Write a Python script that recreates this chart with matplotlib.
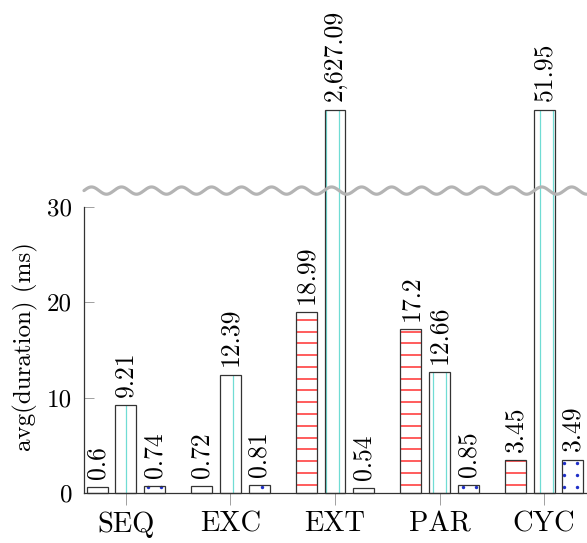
import numpy as np
import matplotlib
matplotlib.use("Agg")
import matplotlib.pyplot as plt
from matplotlib.collections import LineCollection

plt.rcParams["font.family"] = ["cmr10", "DejaVu Serif"]
plt.rcParams["axes.formatter.use_mathtext"] = True

# ---- data -------------------------------------------------------------
categories = ["SEQ", "EXC", "EXT", "PAR", "CYC"]
series_red = [0.6, 0.72, 18.99, 17.2, 3.45]
series_cyan = [9.21, 12.39, 2627.09, 12.66, 51.95]
series_blue = [0.74, 0.81, 0.54, 0.85, 3.49]
y_ticks = [0, 10, 20, 30]
y_label = "avg(duration) (ms)"

# ---- layout -----------------------------------------------------------
W, H = 587, 543
fig = plt.figure(figsize=(W / 100, H / 100), dpi=100)
ax = fig.add_axes([84 / W, 50 / H, 503 / W, 383.5 / H])

y_top = 40.2          # bars taller than this are cut off (broken axis)
ax.set_xlim(-0.4, 4.41)
ax.set_ylim(0, y_top)

x = np.arange(len(categories))
offsets = [-0.274, 0.0, 0.274]
width = 0.2
edge_col = "#333333"


def fmt(v):
    s = f"{v:,.2f}"
    return s.rstrip("0").rstrip(".")


def pattern_hlines(left, right, h, step, phase, color, lw):
    ys = np.arange(phase, h, step)
    segs = [[(left, y), (right, y)] for y in ys if y < h - 0.05]
    if segs:
        ax.add_collection(LineCollection(segs, colors=color, linewidths=lw, zorder=2))


def pattern_vlines(left, right, h, step, color, lw):
    k0 = np.ceil(left / step)
    xs = np.arange(k0 * step, right, step)
    segs = [[(xv, 0), (xv, h)] for xv in xs if left + 0.005 < xv < right - 0.005]
    if segs:
        ax.add_collection(LineCollection(segs, colors=color, linewidths=lw, zorder=2))


def pattern_dots(left, right, h, xstep, xphase, ystep, yphase, color, size):
    k0 = np.ceil((left - xphase) / xstep)
    xs = xphase + np.arange(k0, k0 + 10) * xstep
    xs = xs[(xs > left + 0.01) & (xs < right - 0.01)]
    ys = np.arange(yphase, h - 0.02, ystep)
    if len(xs) and len(ys):
        gx, gy = np.meshgrid(xs, ys)
        ax.scatter(gx.ravel(), gy.ravel(), s=size, color=color, lw=0, zorder=2)


series = [series_red, series_cyan, series_blue]
for si, vals in enumerate(series):
    vals = np.asarray(vals, dtype=float)
    heights = np.minimum(vals, y_top)
    xc = x + offsets[si]
    ax.bar(xc, heights, width, facecolor="white", edgecolor="none", zorder=1)
    ax.bar(xc, heights, width, facecolor="none", edgecolor=edge_col,
           linewidth=0.9, zorder=3, clip_on=False)
    for xi, h, v in zip(xc, heights, vals):
        left, right = xi - width / 2, xi + width / 2
        if si == 0:
            pattern_hlines(left, right, h, 1.235, 0.87, "#ff3030", 1.1)
        elif si == 1:
            pattern_vlines(left, right, h, 0.1277, "#70dcd4", 0.9)
        else:
            pattern_dots(left, right, h, 0.1205, 0.2147, 1.23, 0.66, "#1f2fc8", 6)
        ax.annotate(fmt(v), (xi, h), xytext=(0, 6.0), textcoords="offset points",
                    rotation=90, ha="center", va="bottom", fontsize=18.5,
                    annotation_clip=False)

# wavy break marker between the lower and the cut-off range
xw = np.linspace(-0.4, 4.41, 1200)
yw = 31.7 + 0.38 * np.sin(2 * np.pi * (xw + 0.4) / 0.287)
ax.plot(xw, yw, color="#b4b4b4", lw=2.3, zorder=4, clip_on=False,
        solid_capstyle="round")

# ---- axes styling -----------------------------------------------------
for side in ("top", "right"):
    ax.spines[side].set_visible(False)
ax.spines["left"].set_bounds(0, 30)
for side in ("left", "bottom"):
    ax.spines[side].set_color(edge_col)
    ax.spines[side].set_linewidth(0.9)

ax.set_xticks(x)
ax.set_xticklabels(categories)
ax.set_yticks(y_ticks)
ax.set_yticklabels([str(t) for t in y_ticks])
ax.tick_params(axis="y", direction="in", length=7.2, width=0.7, color="#a0a0a0",
               pad=8.6, labelsize=18)
ax.tick_params(axis="x", direction="out", length=8.4, width=0.7, color="#a0a0a0",
               pad=4.6, labelsize=20.5)

fig.text(25 / W, 1 - 347 / H, y_label, rotation=90, ha="center", va="center",
         fontsize=18)

fig.savefig("out.png", dpi=100, facecolor="white")
